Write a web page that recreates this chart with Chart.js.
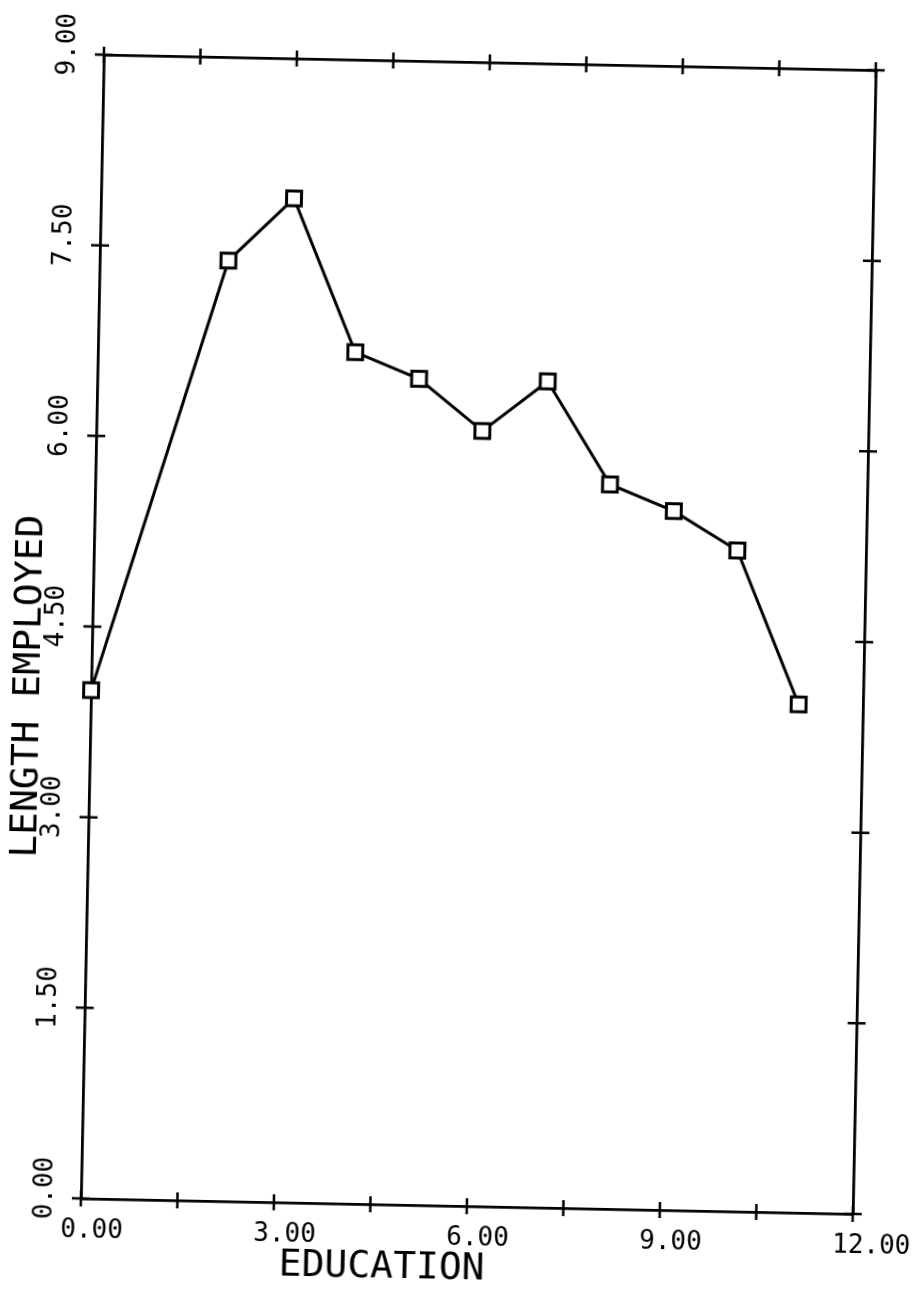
<!DOCTYPE html>
<html>
<head>
<meta charset="utf-8">
<script src="https://cdn.jsdelivr.net/npm/chart.js@4/dist/chart.umd.min.js"></script>
<style>
  html, body { margin: 0; padding: 0; background: #fff; }
  /* the original is a slightly skewed scan of a pen plot */
  #plot { display: block; transform: rotate(1.15deg); transform-origin: 50% 50%; }
</style>
</head>
<body>
<canvas id="plot" width="924" height="1300"></canvas>
<script>
// values
var education = [0, 2, 3, 4, 5, 6, 7, 8, 9, 10, 11];
var lengthEmployed = [4.0, 7.4, 7.9, 6.7, 6.5, 6.1, 6.5, 5.7, 5.5, 5.2, 4.0];

var xRange = [0, 12];
var yRange = [0, 9];
var tickStep = 1.5;

var points = education.map(function (e, i) {
    return { x: e, y: lengthEmployed[i] };
});

var plotFont = { family: '"DejaVu Sans Mono", monospace', size: 26 };

// plotter style: ticks crossing the frame, and the two axis titles
var plotterMarks = {
    id: 'plotterMarks',
    afterDraw: function (chart) {
        var ctx = chart.ctx;
        var a = chart.chartArea;
        var xs = chart.scales.x;
        var ys = chart.scales.y;
        ctx.save();
        ctx.strokeStyle = '#000';
        ctx.lineWidth = 2.5;
        ctx.beginPath();
        xs.ticks.forEach(function (t) {
            var px = xs.getPixelForValue(t.value);
            ctx.moveTo(px, a.bottom - 8); ctx.lineTo(px, a.bottom + 8);
            ctx.moveTo(px, a.top - 8); ctx.lineTo(px, a.top + 8);
        });
        ys.ticks.forEach(function (t) {
            var py = ys.getPixelForValue(t.value);
            ctx.moveTo(a.left - 9, py); ctx.lineTo(a.left + 9, py);
            ctx.moveTo(a.right - 9, py); ctx.lineTo(a.right + 9, py);
        });
        ctx.stroke();

        ctx.fillStyle = '#000';
        ctx.font = '38px "DejaVu Sans Mono", monospace';
        ctx.textAlign = 'center';
        ctx.textBaseline = 'middle';
        ctx.fillText('EDUCATION', a.left + 302, a.bottom + 63);
        ctx.translate(a.left - 62, a.top + 633);
        ctx.rotate(-Math.PI / 2);
        ctx.fillText('LENGTH EMPLOYED', 0, 0);
        ctx.restore();
    }
};

var frameBorder = { display: true, color: '#000', width: 2.8 };

new Chart(document.getElementById('plot'), {
    type: 'scatter',
    data: {
        datasets: [{
            data: points,
            showLine: true,
            borderColor: '#000',
            borderWidth: 3,
            pointStyle: 'rect',
            pointRadius: 10.5,
            pointBorderWidth: 3,
            pointBorderColor: '#000',
            pointBackgroundColor: '#fff',
            clip: false
        }]
    },
    options: {
        responsive: false,
        animation: false,
        devicePixelRatio: 1,
        layout: { padding: { left: 0, right: 60, top: 62, bottom: 0 } },
        plugins: {
            legend: { display: false },
            tooltip: { enabled: false }
        },
        scales: {
            x: {
                type: 'linear',
                position: 'bottom',
                min: xRange[0],
                max: xRange[1],
                grid: { display: false },
                border: frameBorder,
                ticks: {
                    stepSize: tickStep,
                    autoSkip: false,
                    maxRotation: 0,
                    align: 'start',
                    labelOffset: -20,
                    padding: 9,
                    color: '#000',
                    font: plotFont,
                    callback: function (v) { return v % 3 === 0 ? v.toFixed(2) : ''; }
                },
                afterFit: function (s) { s.height = 94; s.paddingLeft = 0; s.paddingRight = 0; }
            },
            y: {
                type: 'linear',
                position: 'left',
                min: yRange[0],
                max: yRange[1],
                grid: { display: false },
                border: frameBorder,
                ticks: {
                    stepSize: tickStep,
                    autoSkip: false,
                    minRotation: 90,
                    maxRotation: 90,
                    labelOffset: -41,
                    padding: 28,
                    color: '#000',
                    font: plotFont,
                    callback: function (v) { return v.toFixed(2); }
                },
                afterFit: function (s) { s.width = 92; s.paddingTop = 0; s.paddingBottom = 0; }
            },
            xTop: {
                type: 'linear',
                position: 'top',
                min: xRange[0],
                max: xRange[1],
                grid: { display: false },
                border: frameBorder,
                ticks: { display: false },
                afterFit: function (s) { s.height = 0; }
            },
            yRight: {
                type: 'linear',
                position: 'right',
                min: yRange[0],
                max: yRange[1],
                grid: { display: false },
                border: frameBorder,
                ticks: { display: false },
                afterFit: function (s) { s.width = 0; }
            }
        }
    },
    plugins: [plotterMarks]
});
</script>
</body>
</html>
